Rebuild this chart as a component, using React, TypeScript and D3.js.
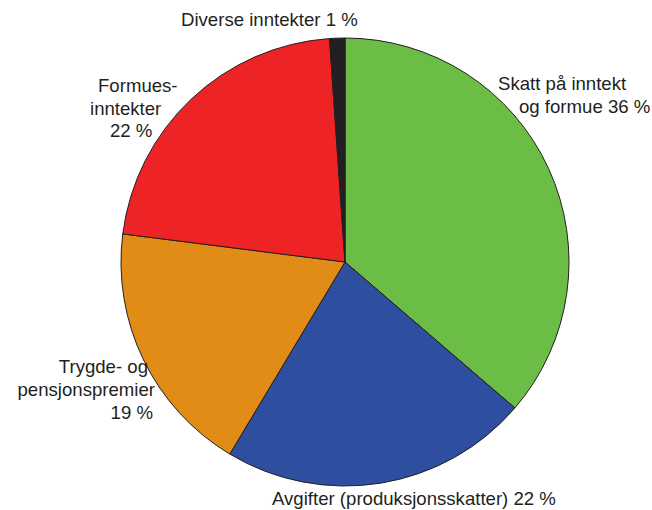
import React from "react";
import * as d3 from "d3";

const categories = ["Skatt på inntekt og formue", "Avgifter (produksjonsskatter)", "Trygde- og pensjonspremier", "Formuesinntekter", "Diverse inntekter"];
const values = [36.3, 22.3, 18.4, 21.9, 1.1];
const colors = ["#6bbd45", "#2e4ea0", "#e08c17", "#ee2325", "#231f20"];
const labelLines = [
  ["Skatt på inntekt", "og formue 36 %"],
  ["Avgifter (produksjonsskatter) 22 %"],
  ["Trygde- og", "pensjonspremier", "19 %"],
  ["Formues-", "inntekter", "22 %"],
  ["Diverse inntekter 1 %"],
];

const W = 652, H = 510;
const cx = 345, cy = 262, R = 224;

// label placement (text anchor, line x positions, first baseline)
const labelPos: { anchor: string; xs: number[]; y: number }[] = [
  { anchor: "start", xs: [498, 519], y: 90 },
  { anchor: "start", xs: [272], y: 505 },
  { anchor: "end", xs: [148, 155, 153], y: 373 },
  { anchor: "start", xs: [98, 90, 110], y: 92 },
  { anchor: "start", xs: [181], y: 26 },
];

export default function App() {
  const pie = d3.pie<number>().sort(null).value((d) => d)(values);
  const arc = d3.arc<d3.PieArcDatum<number>>().innerRadius(0).outerRadius(R);
  return (
    <svg width={W} height={H} style={{ display: "block", position: "absolute", left: 0, top: 0 }}>
      <rect width={W} height={H} fill="#fff" />
      <g transform={`translate(${cx},${cy})`}>
        {pie.map((p, i) => (
          <path key={categories[i]} d={arc(p) || ""} fill={colors[i]} stroke="#231f20" strokeWidth={1} strokeLinejoin="round" />
        ))}
      </g>
      {labelLines.map((lines, i) => (
        <text key={i} fontFamily="'Liberation Sans', Arial, sans-serif" fontSize={18.6} fill="#231f20" textAnchor={labelPos[i].anchor}>
          {lines.map((l, j) => (
            <tspan key={j} x={labelPos[i].xs[j]} y={labelPos[i].y + j * (i === 3 ? 22.5 : 23)}>{l}</tspan>
          ))}
        </text>
      ))}
    </svg>
  );
}
